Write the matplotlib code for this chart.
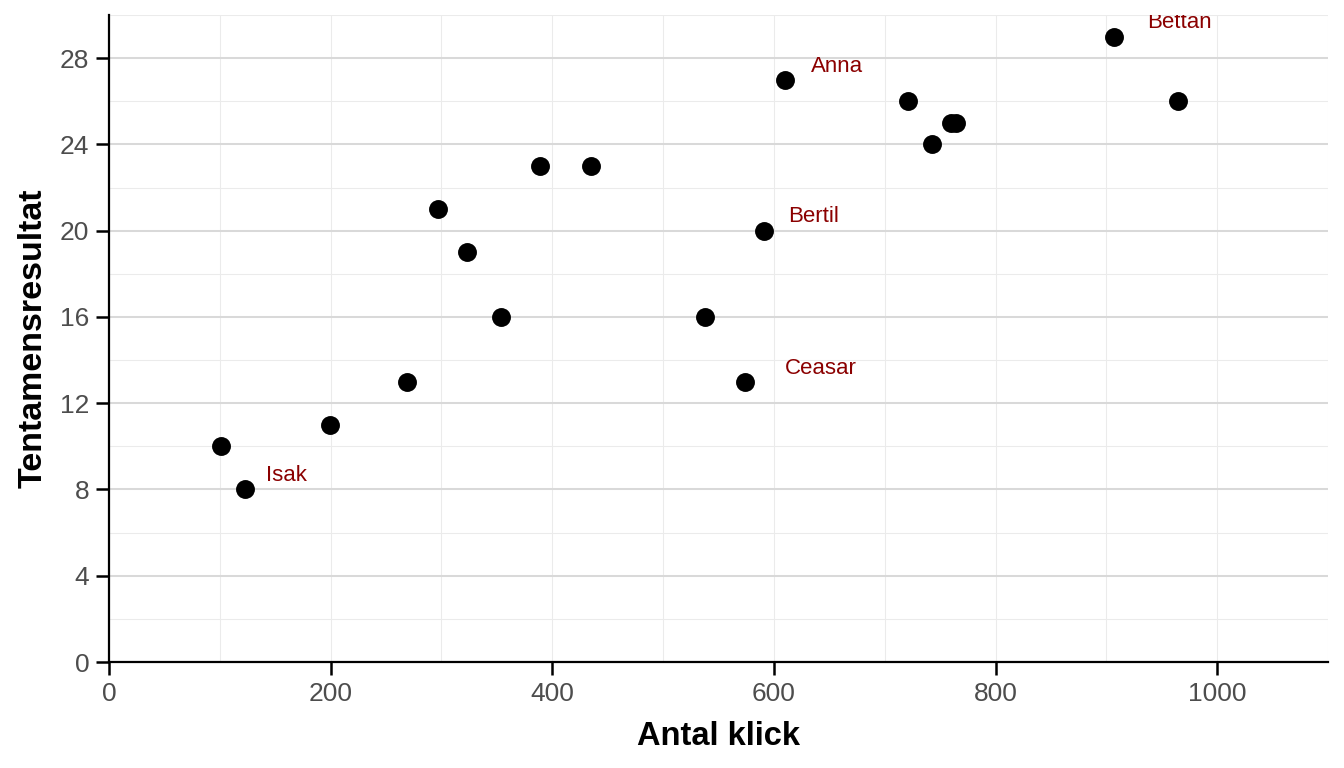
import matplotlib
matplotlib.use("Agg")
import matplotlib.pyplot as plt
from matplotlib.ticker import MultipleLocator

plt.rcParams['font.family'] = ['Liberation Sans', 'DejaVu Sans']

# Data
clicks = [101, 123, 199, 269, 297, 323, 354, 389, 435, 538, 574, 591, 610,
          721, 743, 760, 764, 907, 965]
scores = [10, 8, 11, 13, 21, 19, 16, 23, 23, 16, 13, 20, 27,
          26, 24, 25, 25, 29, 26]

label_names = ["Isak", "Anna", "Bertil", "Ceasar", "Bettan"]
label_x = [160, 657, 636, 642, 966]
label_y = [8.64, 27.63, 20.64, 13.62, 29.65]

x_ticks = [0, 200, 400, 600, 800, 1000]
y_ticks = [0, 4, 8, 12, 16, 20, 24, 28]

fig = plt.figure(figsize=(13.44, 7.68), dpi=100)
ax = fig.add_axes([109/1344, 1 - 662/768, (1328-109)/1344, (662-15)/768])

ax.set_xlim(0, 1100)
ax.set_ylim(0, 30)

# grid
ax.set_xticks(x_ticks)
ax.set_yticks(y_ticks)
ax.xaxis.set_minor_locator(MultipleLocator(100))
ax.yaxis.set_minor_locator(MultipleLocator(2))
ax.grid(which='minor', axis='both', color='#ebebeb', lw=0.75, zorder=0)
ax.grid(which='major', axis='x', color='#ebebeb', lw=0.75, zorder=0)
ax.grid(which='major', axis='y', color='#d9d9d9', lw=1.45, zorder=0)
ax.set_axisbelow(True)
ax.tick_params(which='minor', length=0)

ax.scatter(clicks, scores, s=185, color='black', zorder=3, linewidths=0)

for name, lx, ly in zip(label_names, label_x, label_y):
    ax.text(lx, ly, name, color='#8B0000', fontsize=16, ha='center',
            va='center', clip_on=True, zorder=4)

for s in ['top', 'right']:
    ax.spines[s].set_visible(False)
for s in ['left', 'bottom']:
    ax.spines[s].set_linewidth(1.6)
    ax.spines[s].set_color('black')

ax.tick_params(which='major', direction='out', length=9.3, width=1.8,
               color='black', labelcolor='#4d4d4d', labelsize=19, pad=5)

ax.set_xlabel("Antal klick", fontsize=23.5, fontweight='bold', labelpad=11)
ax.set_ylabel("Tentamensresultat", fontsize=24.5, fontweight='bold', labelpad=8)

fig.savefig("out.png", dpi=100)
